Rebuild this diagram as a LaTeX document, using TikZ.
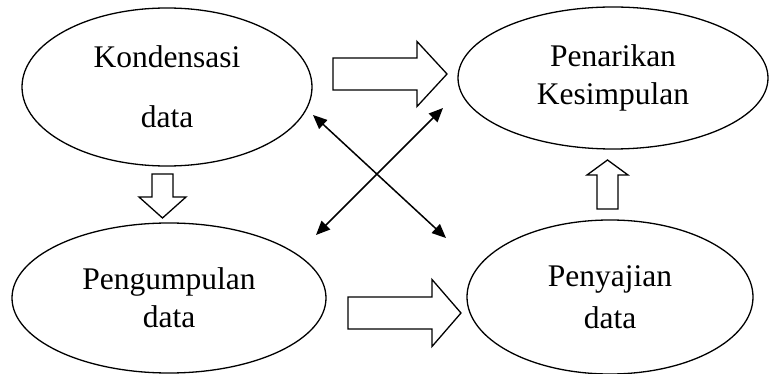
\documentclass[tikz,border=0pt]{standalone}
\usepackage{fontspec}
\setmainfont{Liberation Serif}
\usetikzlibrary{arrows.meta, shapes.geometric}

% block arrow: centre, rotation, length, half shaft, half head, head length
\newcommand{\blkarrow}[6]{%
  \draw[blk, shift={#1}, rotate=#2]
    (-#3/2,-#4) -- (#3/2-#6,-#4) -- (#3/2-#6,-#5) -- (#3/2,0)
    -- (#3/2-#6,#5) -- (#3/2-#6,#4) -- (-#3/2,#4) -- cycle;}

\begin{document}
\begin{tikzpicture}[x=1pt, y=-1pt,
    bub/.style={ellipse, draw, line width=1.3pt, inner sep=0pt, align=center,
                font=\fontsize{31.5}{38}\selectfont},
    blk/.style={draw, fill=white, line width=1.3pt, line join=miter},
    ar/.style={{Triangle[length=14pt,width=12pt]}-{Triangle[length=14pt,width=12pt]},
               line width=1.5pt},
]
\useasboundingbox (0,0) rectangle (774,374);

% === the four stages ===
\node[bub, minimum width=290pt, minimum height=158pt] (kond)   at (167,87)  {Kondensasi\\[22pt]data};
\node[bub, minimum width=310pt, minimum height=142pt] (tarik)  at (613,78)  {Penarikan\\Kesimpulan};
\node[bub, minimum width=314pt, minimum height=150pt] (kumpul) at (169,298) {Pengumpulan\\data};
\node[bub, minimum width=286pt, minimum height=154pt] (saji)   at (610,297) {Penyajian\\[4pt]data};

% === block arrows ===
\blkarrow{(390,74)}{0}{114}{16}{32.5}{30}
\blkarrow{(404.5,313)}{0}{113}{16}{33.5}{29}
\blkarrow{(162.5,196)}{-90}{44}{10.5}{23.5}{21}
\blkarrow{(607.5,184.5)}{90}{49}{10.5}{20.5}{15}

% === crossing double arrows ===
\coordinate (a1) at (313,115);
\coordinate (a2) at (446,238);
\coordinate (b1) at (443,108);
\coordinate (b2) at (316,235);
\draw[ar] (a1) -- (a2);
\draw[ar] (b1) -- (b2);

\end{tikzpicture}
\end{document}
